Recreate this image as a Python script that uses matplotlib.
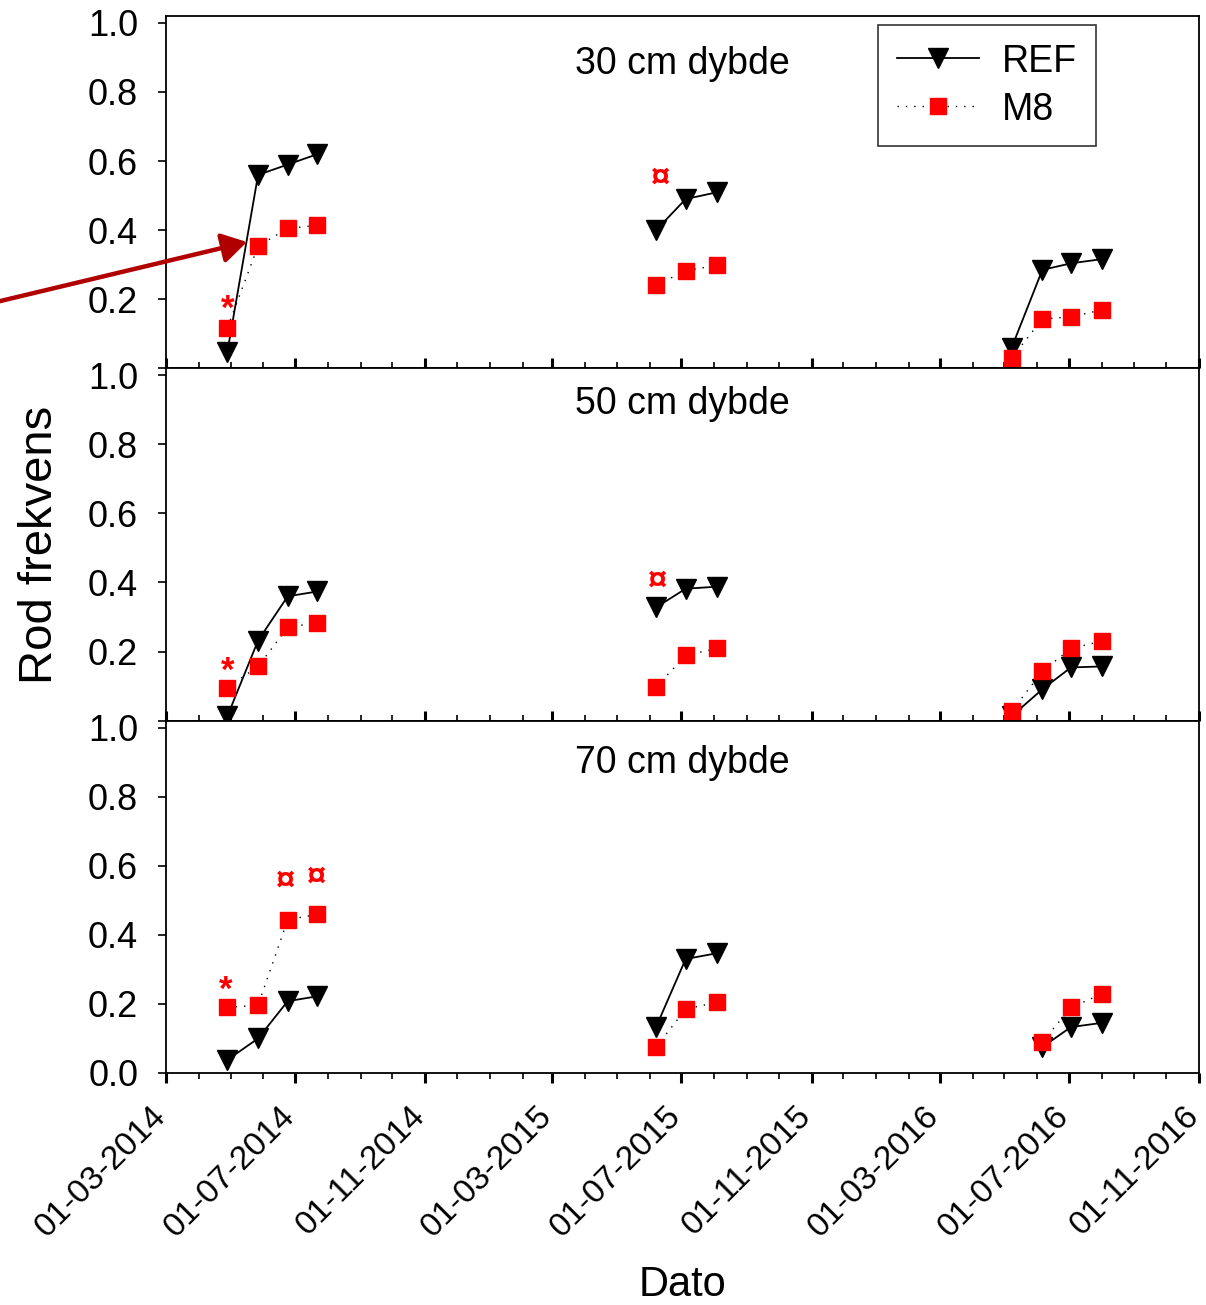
import pandas as pd
import matplotlib
matplotlib.use("Agg")
import matplotlib.pyplot as plt
import matplotlib.dates as mdates
import matplotlib.transforms as mtransforms
from matplotlib.patches import FancyArrowPatch
from matplotlib.lines import Line2D

plt.rcParams['font.family'] = ['Liberation Sans', 'DejaVu Sans']

# Maaledatoer for de tre kampagner
datoer_2014 = pd.to_datetime(['2014-04-28', '2014-05-27', '2014-06-24', '2014-07-22'])
datoer_2015 = pd.to_datetime(['2015-06-07', '2015-07-05', '2015-08-04'])
datoer_2016 = pd.to_datetime(['2016-05-08', '2016-06-06', '2016-07-03', '2016-08-01'])

dybder = ['30 cm dybde', '50 cm dybde', '70 cm dybde']

# Rod frekvens, REF
ref_30 = [[0.048, 0.56, 0.59, 0.62], [0.40, 0.49, 0.51], [0.06, 0.285, 0.304, 0.316]]
ref_50 = [[0.013, 0.232, 0.36, 0.374], [0.328, 0.382, 0.388], [0.013, 0.091, 0.154, 0.157]]
ref_70 = [[0.038, 0.10, 0.208, 0.222], [0.133, 0.33, 0.347], [None, 0.075, 0.133, 0.145]]

# Rod frekvens, M8
m8_30 = [[0.117, 0.354, 0.405, 0.414], [0.241, 0.282, 0.299], [0.03, 0.143, 0.149, 0.169]]
m8_50 = [[0.096, 0.157, 0.27, 0.284], [0.097, 0.189, 0.209], [0.027, 0.143, 0.209, 0.23]]
m8_70 = [[0.19, 0.196, 0.444, 0.459], [0.075, 0.185, 0.205], [None, 0.09, 0.19, 0.228]]

# Signifikans-markeringer (dato, y, tegn)
mark_30 = [('2014-04-28', 0.17, '*'), ('2015-06-10', 0.55, '\u00a4')]
mark_50 = [('2014-04-28', 0.142, '*'), ('2015-06-08', 0.405, '\u00a4')]
mark_70 = [('2014-04-26', 0.24, '*'), ('2014-06-21', 0.556, '\u00a4'), ('2014-07-20', 0.568, '\u00a4')]

ref_alle = [ref_30, ref_50, ref_70]
m8_alle = [m8_30, m8_50, m8_70]
mark_alle = [mark_30, mark_50, mark_70]
grupper = [datoer_2014, datoer_2015, datoer_2016]

fig, axes = plt.subplots(3, 1, figsize=(12.06, 13.05), dpi=100, sharex=True)
fig.subplots_adjust(left=166/1206, right=1199/1206, top=1-16/1305, bottom=1-1073/1305, hspace=0)

titel_y = [0.864, 0.898, 0.881]

for i, ax in enumerate(axes):
    for d, r, m in zip(grupper, ref_alle[i], m8_alle[i]):
        s_r = pd.Series(r, index=d, dtype=float).dropna()
        s_m = pd.Series(m, index=d, dtype=float).dropna()
        ax.plot(s_r.index, s_r.values, color='black', lw=1.3, marker='v',
                markersize=14, markerfacecolor='black', markeredgecolor='black', zorder=3)
        ax.plot(s_m.index, s_m.values, color='black', lw=1.0, linestyle=(0, (1, 5)),
                marker='s', markersize=12, markerfacecolor='red', markeredgecolor='red',
                zorder=4)
    for dato, y, tegn in mark_alle[i]:
        ax.text(pd.Timestamp(dato), y, tegn, color='red', fontsize=25,
                fontweight='bold', ha='center', va='center')
    ax.text(0.5, titel_y[i], dybder[i], transform=ax.transAxes, fontsize=27,
            ha='center', va='center')

    ax.set_ylim(0, 1.02)
    ax.set_yticks([0, 0.2, 0.4, 0.6, 0.8, 1.0])
    if i < 2:
        ax.set_yticklabels(['', '0.2', '0.4', '0.6', '0.8', '1.0'])
    else:
        ax.set_yticklabels(['0.0', '0.2', '0.4', '0.6', '0.8', '1.0'])
    ax.tick_params(axis='y', direction='out', length=6, width=1.2, labelsize=26, pad=14,
                   right=False)
    retning = 'out' if i == 2 else 'in'
    ax.tick_params(axis='x', which='major', direction=retning, length=7, width=2.2)
    ax.tick_params(axis='x', which='minor', direction=retning, length=4, width=1.2)
    for sp in ax.spines.values():
        sp.set_linewidth(1.3)

ax = axes[2]
ax.set_xlim(pd.Timestamp('2014-03-01'), pd.Timestamp('2016-11-01'))
ax.xaxis.set_major_locator(mdates.MonthLocator(bymonth=[3, 7, 11]))
ax.xaxis.set_minor_locator(mdates.MonthLocator())
ax.xaxis.set_major_formatter(mdates.DateFormatter('%d-%m-%Y'))
ax.tick_params(axis='x', labelsize=24, pad=10)
skift = mtransforms.ScaledTranslation(-16/100, -4/100, fig.dpi_scale_trans)
for lab in ax.get_xticklabels():
    lab.set_rotation(45)
    lab.set_ha('right')
    lab.set_va('top')
    lab.set_rotation_mode('anchor')
    lab.set_transform(lab.get_transform() + skift)

# Legend i oeverste panel
handles = [
    Line2D([], [], color='black', lw=1.3, marker='v', markersize=14),
    Line2D([], [], color='black', lw=1.0, linestyle=(0, (1, 5)), marker='s',
           markersize=12, markerfacecolor='red', markeredgecolor='red'),
]
leg = axes[0].legend(handles, ['REF', 'M8'], loc='upper right', bbox_to_anchor=(0.900, 0.975),
                     borderaxespad=0, fontsize=27, frameon=True, fancybox=False,
                     handlelength=2.2, handletextpad=0.6, borderpad=0.5, labelspacing=0.32)
leg.get_frame().set_edgecolor('black')
leg.get_frame().set_linewidth(1.2)

fig.text(40/1206, 1-545/1305, 'Rod frekvens', rotation=90, fontsize=34, ha='center', va='center')
fig.text(683/1206, 1-1285/1305, 'Dato', fontsize=30, ha='center', va='center')

# Pil
pil = FancyArrowPatch((-0.01, 1-304/1305), (247/1206, 1-242/1305), transform=fig.transFigure,
                      arrowstyle='-|>,head_length=0.75,head_width=0.45', mutation_scale=20,
                      lw=3.2, color='#B00000', shrinkA=0, shrinkB=0)
fig.patches.append(pil)

plt.savefig('out.png', dpi=100)
